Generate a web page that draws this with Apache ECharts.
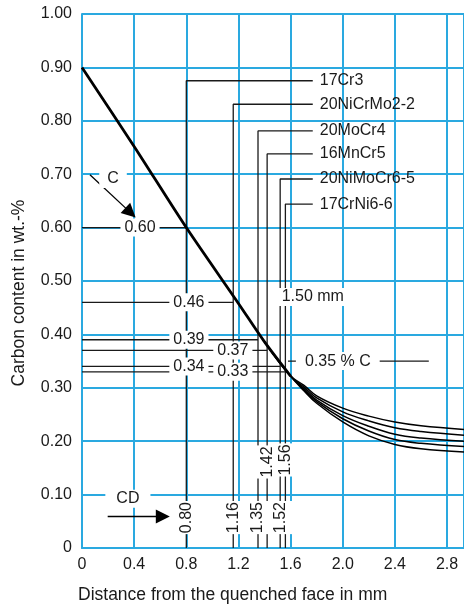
<!DOCTYPE html>
<html>
<head>
<meta charset="utf-8">
<script src="https://cdn.jsdelivr.net/npm/echarts@6/dist/echarts.min.js"></script>
<style>
  html, body { margin: 0; padding: 0; background: #fff; }
  #chart { width: 464px; height: 610px; }
</style>
</head>
<body>
<div id="chart"></div>
<script>
// tick labels
const xTickLabels = ['0', '0.4', '0.8', '1.2', '1.6', '2.0', '2.4', '2.8'];
const yTickLabels = ['0', '0.10', '0.20', '0.30', '0.40', '0.50', '0.60', '0.70', '0.80', '0.90', '1.00'];

// steels, case depth (mm) and carbon content at that depth
const steels = ['17Cr3', '20NiCrMo2-2', '20MoCr4', '16MnCr5', '20NiMoCr6-5', '17CrNi6-6'];
const cdValues = [0.80, 1.16, 1.35, 1.42, 1.52, 1.56];
const carbonAtCd = [0.60, 0.46, 0.39, 0.37, 0.34, 0.33];

// common carbon profile (all steels) up to 1.6 mm
const trunkX = [0, 0.4, 0.8, 1.2, 1.4, 1.6];
const trunkC = [0.90, 0.752, 0.60, 0.458, 0.386, 0.322];

// tails after 1.6 mm
const tailX = [1.7, 1.8, 2.0, 2.2, 2.4, 2.6, 2.93];
const tailA = [0.305, 0.285, 0.262, 0.247, 0.236, 0.229, 0.222];
const tailB = [0.302, 0.281, 0.255, 0.238, 0.225, 0.218, 0.211];
const tailC = [0.299, 0.277, 0.248, 0.228, 0.213, 0.206, 0.200];
const tailD = [0.297, 0.274, 0.242, 0.219, 0.203, 0.196, 0.190];
const tailE = [0.295, 0.271, 0.236, 0.210, 0.194, 0.186, 0.180];

// reference values
const refDepth = 1.50;
const refCarbon = 0.35;

// --- layout (annotation placement) ---
const leaderLevels = [0.875, 0.831, 0.781, 0.738, 0.691, 0.644];
const leaderEndX = 1.77;
const cdLabelY = [0.057, 0.057, 0.057, 0.148, 0.057, 0.148];
const cdLabelShift = [0, 0, 0, 7, 0, 9];
const carbonLabelX = [0.445, 0.82, 0.82, 1.157, 0.82, 1.157];

const FONT = '"Liberation Sans", Arial, sans-serif';
const INK = '#1a1a1a';
const GRID = '#2aa9e0';

const chart = echarts.init(document.getElementById('chart'));

const trunk = trunkX.map((x, i) => [x, trunkC[i]]);
const tails = [tailA, tailB, tailC, tailD, tailE].map(t =>
  trunk.slice(-2).concat(tailX.map((x, i) => [x, t[i]])));

const labelStyle = {
  show: true,
  position: 'inside',
  color: INK,
  fontFamily: FONT,
  fontSize: 16,
  backgroundColor: '#fff',
  padding: [1, 4]
};

const series = [];

// carbon profile
series.push({
  type: 'line', data: trunk, smooth: 0.3, symbol: 'none', z: 4,
  lineStyle: { color: '#000', width: 2.8 }
});
tails.forEach(d => series.push({
  type: 'line', data: d, smooth: 0.4, symbol: 'none', z: 4,
  lineStyle: { color: '#000', width: 1.5 }
}));

// leader lines to steel names
steels.forEach((name, i) => {
  series.push({
    type: 'line', name: name, symbol: 'none', z: 3,
    data: [[cdValues[i], 0], [cdValues[i], leaderLevels[i]], [leaderEndX, leaderLevels[i]]],
    lineStyle: { color: INK, width: 1.3 },
    endLabel: { show: true, formatter: name, distance: 7, color: INK, fontFamily: FONT, fontSize: 16 }
  });
  // horizontal carbon line
  series.push({
    type: 'line', symbol: 'none', z: 3,
    data: [[0, carbonAtCd[i]], [cdValues[i], carbonAtCd[i]]],
    lineStyle: { color: INK, width: 1.3 }
  });
});

// 0.35 % C line + arrows
series.push({
  type: 'line', symbol: 'none', z: 3,
  data: [[1.58, refCarbon], [2.66, refCarbon]],
  lineStyle: { color: INK, width: 1.3 },
  markLine: {
    silent: true, symbol: ['none', 'triangle'], symbolSize: 14,
    label: { show: false },
    lineStyle: { color: '#000', width: 1.3, type: 'solid' },
    data: [
      [{ coord: [0.061, 0.699] }, { coord: [0.372, 0.628] }],
      [{ coord: [0.197, 0.059] }, { coord: [0.62, 0.059] }]
    ]
  }
});

// value labels
const labelData = [];
cdValues.forEach((cd, i) => labelData.push({
  value: [cd, cdLabelY[i]], name: cd.toFixed(2),
  label: { rotate: 90, padding: [4, 1], offset: [cdLabelShift[i], 0] }
}));
carbonAtCd.forEach((c, i) => labelData.push({
  value: [carbonLabelX[i], c], name: c.toFixed(2)
}));
labelData.push({ value: [1.77, 0.47], name: refDepth.toFixed(2) + ' mm' });
labelData.push({ value: [1.962, refCarbon], name: refCarbon.toFixed(2) + ' % C', label: { padding: [1, 9] } });
labelData.push({ value: [0.238, 0.691], name: 'C', label: { padding: [1, 8] } });
labelData.push({ value: [0.352, 0.092], name: 'CD', label: { padding: [1, 11] } });

series.push({
  type: 'scatter', symbolSize: 1, z: 6,
  itemStyle: { color: 'transparent', opacity: 1 },
  label: Object.assign({ formatter: p => p.name }, labelStyle),
  data: labelData
});

const option = {
  animation: false,
  grid: { left: 82, right: 0, top: 14, bottom: 62 },
  xAxis: {
    type: 'value', min: 0, max: 2.93, interval: 0.4,
    axisLine: { show: true, lineStyle: { color: GRID, width: 2 } },
    axisTick: { show: false },
    axisLabel: {
      margin: 9, color: INK, fontFamily: FONT, fontSize: 16,
      formatter: v => xTickLabels[Math.round(v / 0.4)]
    },
    splitLine: { show: true, lineStyle: { color: GRID, width: 2 } }
  },
  yAxis: {
    type: 'value', min: 0, max: 1, interval: 0.1,
    axisLine: { show: true, lineStyle: { color: GRID, width: 2 } },
    axisTick: { show: false },
    axisLabel: {
      margin: 10, color: INK, fontFamily: FONT, fontSize: 16,
      formatter: v => yTickLabels[Math.round(v * 10)]
    },
    splitLine: { show: true, lineStyle: { color: GRID, width: 2 } }
  },
  graphic: [
    {
      type: 'text', left: 78, top: 586,
      style: { text: 'Distance from the quenched face in mm', fill: INK, font: '17.5px ' + FONT }
    },
    {
      type: 'text', x: 19, y: 293, rotation: Math.PI / 2,
      style: {
        text: 'Carbon content in wt.-%', fill: INK, font: '17.5px ' + FONT,
        textAlign: 'center', textVerticalAlign: 'middle'
      }
    }
  ],
  series: series
};

chart.setOption(option);
</script>
</body>
</html>
